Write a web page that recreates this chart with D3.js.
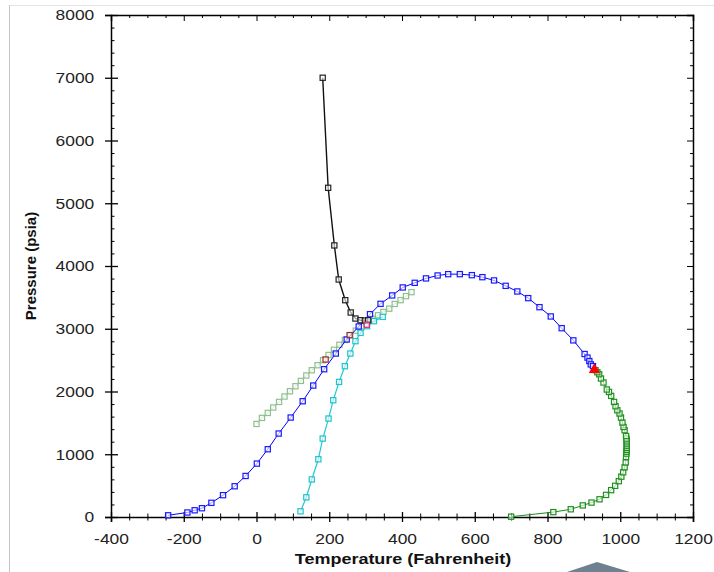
<!DOCTYPE html>
<html>
<head>
<meta charset="utf-8">
<script src="https://cdn.jsdelivr.net/npm/d3@7"></script>
<style>
  body { margin: 0; background: #fff; }
  svg { display: block; font-family: "Liberation Sans", Arial, sans-serif; }
  .axis path, .axis line { stroke: #000; }
  .axis text { fill: #222; font-size: 15px; }
</style>
</head>
<body>
<svg width="714" height="572"></svg>
<script>
// series: [temperature F, pressure psia]
var blackPts = [[182,7000],[197,5246],[214,4328],[226,3785],[244,3455],[259,3259],[272,3163],[286,3136],[298,3130],[307,3136]];
var bluePts = [[-243,27],[-190,72],[-170,107],[-150,140],[-124,226],[-92,348],[-60,490],[-30,654],[1,851],[31,1080],
  [61,1330],[94,1585],[127,1845],[156,2095],[186,2355],[218,2605],[248,2829],[281,3036],[312,3232],[341,3397],
  [373,3531],[402,3658],[435,3732],[466,3802],[498,3849],[527,3870],[559,3870],[592,3854],[621,3822],[653,3770],
  [685,3684],[717,3594],[747,3488],[778,3344],[809,3196],[839,3009],[871,2815],[902,2597],[910,2540],[915,2485],
  [919,2432],[925,2405]];
var cyanPts = [[121,91],[137,314],[152,598],[170,920],[182,1250],[198,1569],[211,1861],[227,2153],[243,2403],[258,2605],
  [272,2802],[286,2934],[304,3041],[323,3121],[347,3189]];
var lightGreenPts = [[0,1483],[15,1579],[31,1658],[46,1745],[62,1834],[77,1920],[92,2004],[107,2084],[122,2169],[137,2255],
  [152,2339],[168,2419],[183,2499],[198,2582],[213,2665],[228,2745],[243,2822],[258,2898],[273,2970],[289,3040],
  [304,3105],[319,3160],[334,3215],[349,3268],[365,3320],[380,3395],[396,3456],[411,3520],[426,3583]];
var greenPts = [[700,5],[816,78],[864,123],[897,185],[921,230],[943,282],[961,352],[975,428],[986,497],[996,571],
  [1003,643],[1008,712],[1012,792],[1015,869],[1016,957],[1017,1010],[1017,1040],[1018,1070],[1018,1100],[1018,1130],
  [1018,1160],[1018,1190],[1018,1220],[1017,1250],[1016,1290],[1012,1383],[1009,1435],[1006,1505],[1002,1585],[998,1649],
  [992,1701],[987,1765],[983,1834],[975,1930],[969,1993],[963,2032],[954,2143],[947,2207],[942,2275],[937,2307],[932,2340]];
var darkRedPts = [[190,2510],[256,2898]];
var pinkPts = [[303,3065]];
var trianglePts = [[929,2345]];

var xTicks = [-400,-200,0,200,400,600,800,1000,1200];
var yTicks = [0,1000,2000,3000,4000,5000,6000,7000,8000];

var svg = d3.select("svg"),
    margin = {top: 15, right: 21, bottom: 55, left: 111},
    width = 714 - margin.left - margin.right,
    height = 572 - margin.top - margin.bottom;

// outer frame bits
svg.append("line").attr("x1", 9).attr("x2", 714).attr("y1", 5.5).attr("y2", 5.5).attr("stroke", "#e4e4e4");
svg.append("line").attr("x1", 9.5).attr("x2", 9.5).attr("y1", 5).attr("y2", 572).attr("stroke", "#c4c4c4");
svg.append("path").attr("d", "M567,572L597,562L630,572Z").attr("fill", "#6f8090");

var g = svg.append("g").attr("transform", "translate(" + margin.left + "," + margin.top + ")");

var x = d3.scaleLinear().domain([-400, 1200]).range([0, width]);
var y = d3.scaleLinear().domain([0, 8000]).range([height, 0]);

var plain = function(d) { return String(d); };

var xMinor = d3.range(-400, 1201, 50).filter(function(d) { return d % 200 !== 0; });
var yMinor = d3.range(0, 8001, 200).filter(function(d) { return d % 1000 !== 0; });

// top and right frame with inward ticks
g.append("g").attr("class", "axis")
    .call(d3.axisTop(x).tickValues(xTicks).tickSize(-6).tickFormat(""))
    .call(function(a) { a.select(".domain").attr("stroke", "#555").attr("stroke-width", 1.5); a.selectAll("line").attr("stroke", "#333"); });
g.append("g").attr("class", "axis")
    .call(d3.axisTop(x).tickValues(xMinor).tickSize(-3).tickFormat(""))
    .call(function(a) { a.select(".domain").remove(); a.selectAll("line").attr("stroke", "#333"); });
g.append("g").attr("class", "axis").attr("transform", "translate(" + width + ",0)")
    .call(d3.axisRight(y).tickValues(yTicks).tickSize(-6).tickFormat(""))
    .call(function(a) { a.select(".domain").attr("stroke", "#555").attr("stroke-width", 1.5); a.selectAll("line").attr("stroke", "#333"); });
g.append("g").attr("class", "axis").attr("transform", "translate(" + width + ",0)")
    .call(d3.axisRight(y).tickValues(yMinor).tickSize(-3).tickFormat(""))
    .call(function(a) { a.select(".domain").remove(); a.selectAll("line").attr("stroke", "#333"); });

// bottom axis, ticks crossing the line
var xAxis = g.append("g").attr("class", "axis").attr("transform", "translate(0," + height + ")")
    .call(d3.axisBottom(x).tickValues(xTicks).tickFormat(plain).tickSize(5).tickPadding(11));
xAxis.select(".domain").attr("stroke-width", 1.5);
xAxis.selectAll(".tick line").attr("y1", -5).attr("stroke-width", 1.3);
xAxis.selectAll("text").attr("transform", "scale(1.16,1)").attr("dy", "0.71em");
g.append("g").attr("class", "axis").attr("transform", "translate(0," + height + ")")
    .call(d3.axisBottom(x).tickValues(xMinor).tickSize(3.5).tickFormat(""))
    .call(function(a) { a.select(".domain").remove(); a.selectAll("line").attr("y1", -3.5); });

// left axis
var yAxis = g.append("g").attr("class", "axis")
    .call(d3.axisLeft(y).tickValues(yTicks).tickFormat(plain).tickSize(6));
yAxis.select(".domain").attr("stroke-width", 1.5);
yAxis.selectAll(".tick line").attr("x2", 7).attr("x1", -6).attr("stroke-width", 1.3);
yAxis.selectAll("text").attr("x", -14.4).attr("transform", "scale(1.16,1)");
g.append("g").attr("class", "axis")
    .call(d3.axisLeft(y).tickValues(yMinor).tickSize(3.5).tickFormat(""))
    .call(function(a) { a.select(".domain").remove(); a.selectAll("line").attr("x2", 3.5); });

// axis titles
svg.append("text")
    .attr("transform", "translate(403,564) scale(1.2,1)")
    .attr("text-anchor", "middle")
    .attr("font-weight", "bold").attr("font-size", "15px").attr("fill", "#111")
    .text("Temperature (Fahrenheit)");
svg.append("text")
    .attr("transform", "translate(36,266) rotate(-90)")
    .attr("text-anchor", "middle")
    .attr("font-weight", "bold").attr("font-size", "15px").attr("fill", "#111")
    .text("Pressure (psia)");

var line = d3.line()
    .x(function(d) { return x(d[0]); })
    .y(function(d) { return y(d[1]); });

function series(data, lineColor, markColor, lw) {
  g.append("path").datum(data)
      .attr("fill", "none").attr("stroke", lineColor).attr("stroke-width", lw)
      .attr("d", line);
  markers(data, markColor);
}

function markers(data, color) {
  g.append("g").selectAll("rect").data(data).enter().append("rect")
      .attr("x", function(d) { return x(d[0]) - 2.6; })
      .attr("y", function(d) { return y(d[1]) - 2.6; })
      .attr("width", 5.2).attr("height", 5.2)
      .attr("fill", "#fff").attr("fill-opacity", 0.6)
      .attr("stroke", color).attr("stroke-width", 1.2);
}

series(lightGreenPts, "#9cc89c", "#8fbf8f", 1);
series(cyanPts, "#22c8d2", "#1cc4cc", 1.2);
series(bluePts, "#0000ff", "#1a1aff", 1);
series(blackPts, "#111", "#222", 1.4);
series(greenPts, "#1a8a1a", "#1f901f", 1);
markers(darkRedPts, "#a02828");
markers(pinkPts, "#e0206e");

g.append("g").selectAll("path").data(trianglePts).enter().append("path")
    .attr("transform", function(d) { return "translate(" + x(d[0]) + "," + y(d[1]) + ")"; })
    .attr("d", d3.symbol().type(d3.symbolTriangle).size(55))
    .attr("fill", "#ff0000");
</script>
</body>
</html>
